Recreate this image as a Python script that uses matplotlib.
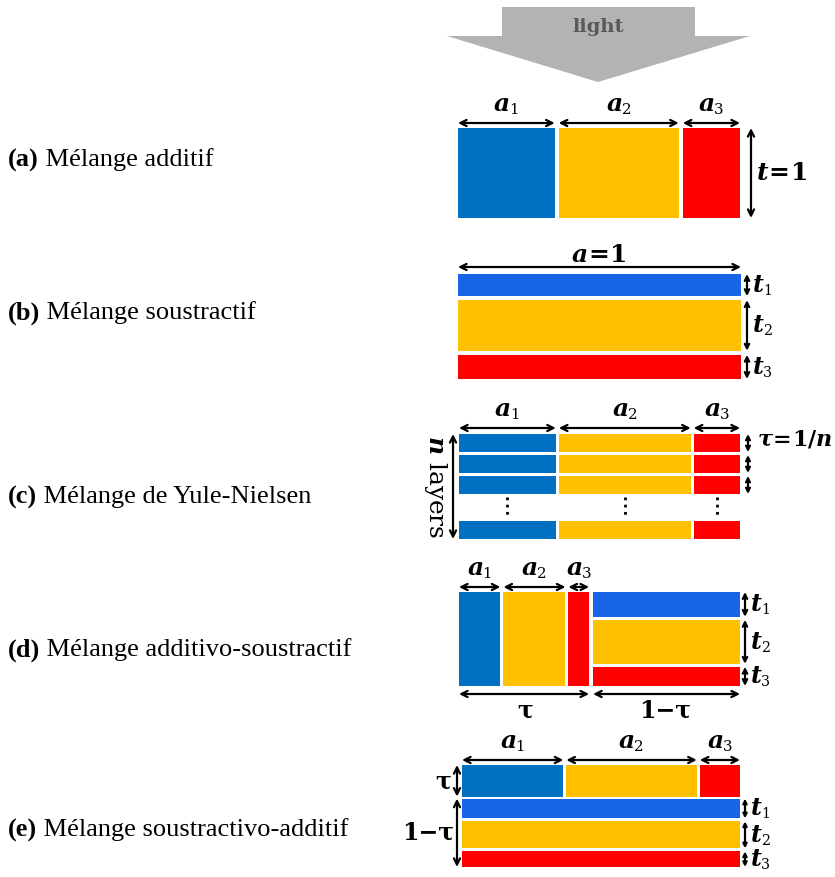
"""
Schéma des modèles de mélange (additif, soustractif, Yule-Nielsen, ...)
"""

import numpy as np
import matplotlib
matplotlib.use("Agg")
import matplotlib.pyplot as plt
from matplotlib.patches import Rectangle, Polygon

# ============================================================================
# Données : proportions
# ============================================================================
labels = ["(a)", "(b)", "(c)", "(d)", "(e)"]
names = [" Mélange additif", " Mélange soustractif", " Mélange de Yule-Nielsen",
         " Mélange additivo-soustractif", " Mélange soustractivo-additif"]

additive_a = [0.35, 0.44, 0.21]          # (a) surfaces a1, a2, a3
subtractive_t = [0.23, 0.52, 0.25]       # (b) épaisseurs t1, t2, t3
yule_a = [0.35, 0.48, 0.17]              # (c) surfaces
yule_layers_shown = 3                    # (c) couches visibles avant les points
addsub_a = [0.33, 0.50, 0.17]            # (d) surfaces (partie additive)
addsub_t = [0.28, 0.50, 0.22]            # (d) épaisseurs (partie soustractive)
addsub_tau = 0.47                        # (d) τ
subadd_a = [0.37, 0.48, 0.15]            # (e) surfaces (couche du haut)
subadd_t = [0.31, 0.44, 0.25]            # (e) épaisseurs
subadd_tau = 0.31                        # (e) τ

# couleurs
BLUE = "#0070c0"
BLUE_L = "#1766ea"
YELLOW = "#ffc000"
RED = "#ff0000"
COLS_A = [BLUE, YELLOW, RED]
COLS_T = [BLUE_L, YELLOW, RED]

plt.rcParams["mathtext.fontset"] = "custom"
plt.rcParams["mathtext.it"] = "DejaVu Serif:italic:bold"
plt.rcParams["mathtext.rm"] = "DejaVu Serif:bold"
plt.rcParams["mathtext.bf"] = "DejaVu Serif:bold"

fig = plt.figure(figsize=(8.35, 8.77), dpi=100)
ax = fig.add_axes([0, 0, 1, 1])
ax.set_xlim(0, 835)
ax.set_ylim(877, 0)
ax.axis("off")
renderer = fig.canvas.get_renderer()


def edges_of(start, end, fracs):
    f = np.asarray(fracs, dtype=float)
    return start + (end - start) * np.concatenate([[0], np.cumsum(f) / f.sum()])


def hblocks(x0, x1, y0, y1, fracs, colors, gap=4):
    """Blocs côte à côte (mélange additif)"""
    e = edges_of(x0, x1, fracs)
    segs = []
    for i, c in enumerate(colors):
        l = e[i] + (gap / 2 if i > 0 else 0)
        r = e[i + 1] - (gap / 2 if i < len(colors) - 1 else 0)
        ax.add_patch(Rectangle((l, y0), r - l, y1 - y0, color=c, lw=0))
        segs.append((l, r))
    return segs


def vblocks(x0, x1, y0, y1, fracs, colors, gap=4):
    """Couches superposées (mélange soustractif)"""
    e = edges_of(y0, y1, fracs)
    segs = []
    for i, c in enumerate(colors):
        t = e[i] + (gap / 2 if i > 0 else 0)
        b = e[i + 1] - (gap / 2 if i < len(colors) - 1 else 0)
        ax.add_patch(Rectangle((x0, t), x1 - x0, b - t, color=c, lw=0))
        segs.append((t, b))
    return segs


def darrow(x0, y0, x1, y1, ms=11):
    ax.annotate("", xy=(x1, y1), xytext=(x0, y0),
                arrowprops=dict(arrowstyle="<->", color="black", lw=1.6,
                                shrinkA=0, shrinkB=0, mutation_scale=ms))


def sym(x, y, base, sub, fs=18, ha="center"):
    """Lettre italique grasse + petit indice"""
    t1 = ax.text(x, y, base, ha="left", va="center", fontsize=fs,
                 family="DejaVu Serif", style="italic", fontweight="bold")
    w1 = t1.get_window_extent(renderer=renderer).width
    t2 = ax.text(x + w1 - 1, y + fs * 0.35, sub, ha="left", va="center",
                 fontsize=fs * 0.6, family="DejaVu Serif")
    w2 = t2.get_window_extent(renderer=renderer).width
    if ha == "center":
        shift = (w1 + w2 - 1) / 2
        t1.set_x(x - shift)
        t2.set_x(x - shift + w1 - 1)


def a_labels(segs, y_arrow, y_text):
    for i, (l, r) in enumerate(segs):
        darrow(l, y_arrow, r, y_arrow)
        sym((l + r) / 2, y_text, "a", str(i + 1), fs=18)


def t_labels(segs, x_arrow, x_text, ms=8):
    for i, (t, b) in enumerate(segs):
        darrow(x_arrow, t, x_arrow, b, ms=ms)
        sym(x_text, (t + b) / 2, "t", str(i + 1), fs=17, ha="left")


# ---------------------------------------------------------------- light
ax.add_patch(Polygon([(502, 7), (695, 7), (695, 36), (750, 36), (598, 82),
                      (447, 36), (502, 36)], closed=True, color="#b3b3b3", lw=0))
ax.text(598, 27, "light", ha="center", va="center", fontsize=14,
        fontweight="bold", color="#595959", family="DejaVu Serif")

# ---------------------------------------------------------------- (a)
segs = hblocks(458, 740, 128, 218, additive_a, COLS_A)
a_labels(segs, 123, 104)
darrow(751, 128, 751, 218)
ax.text(756, 173, r"$t\!=\!1$", ha="left", va="center", fontsize=18)

# ---------------------------------------------------------------- (b)
segs = vblocks(458, 741, 274, 379, subtractive_t, COLS_T)
darrow(458, 267, 741, 267)
ax.text(599, 255, r"$a\!=\!1$", ha="center", va="center", fontsize=18)
t_labels(segs, 747, 753)

# ---------------------------------------------------------------- (c)
row_h, pitch = 18, 21
row_tops = [434 + pitch * k for k in range(yule_layers_shown)] + [521]
for top in row_tops:
    segs = hblocks(459, 740, top, top + row_h, yule_a, COLS_A, gap=3)
a_labels(segs, 428, 409)
for (l, r) in segs:
    ax.plot([(l + r) / 2] * 2, [497, 517], color="black", lw=2,
            ls=(0, (1, 1.6)))
for top in row_tops[:yule_layers_shown]:
    darrow(748, top, 748, top + row_h, ms=7)
darrow(453, 434, 453, 539)
ax.text(436, 487, r"$n$ layers", ha="center", va="center", rotation=-90,
        fontsize=18, family="DejaVu Serif")
ax.text(757, 439, r"$\tau\!=\!1/n$", ha="left", va="center", fontsize=16)

# ---------------------------------------------------------------- (d)
xs = 459 + addsub_tau * (740 - 459)
segs = hblocks(459, xs - 2, 592, 686, addsub_a, COLS_A, gap=3)
a_labels(segs, 587, 568)
segs_t = vblocks(xs + 2, 740, 592, 686, addsub_t, COLS_T, gap=3)
t_labels(segs_t, 745, 751)
darrow(459, 694, xs - 2, 694)
darrow(xs + 2, 694, 740, 694)
ax.text((459 + xs) / 2, 710, "τ", ha="center", va="center", fontsize=17,
        fontweight="bold", family="DejaVu Serif")
ax.text((xs + 740) / 2, 710, "1−τ", ha="center", va="center", fontsize=17,
        fontweight="bold", family="DejaVu Serif")

# ---------------------------------------------------------------- (e)
y_top, y_bot = 765, 867
ys = y_top + subadd_tau * (y_bot - y_top)
segs = hblocks(462, 740, y_top, ys, subadd_a, COLS_A, gap=3)
a_labels(segs, 760, 741)
segs_t = vblocks(462, 740, ys + 2, y_bot, subadd_t, COLS_T, gap=3)
t_labels(segs_t, 745, 751, ms=6)
darrow(457, y_top, 457, ys)
darrow(457, ys + 2, 457, y_bot)
ax.text(443, (y_top + ys) / 2, "τ", ha="center", va="center", fontsize=17,
        fontweight="bold", family="DejaVu Serif")
ax.text(428, (ys + y_bot) / 2, "1−τ", ha="center", va="center", fontsize=17,
        fontweight="bold", family="DejaVu Serif")

# ---------------------------------------------------------------- textes gauche
label_y = [160, 313, 497, 650, 830]
for lab, name, y in zip(labels, names, label_y):
    t = ax.text(8, y, lab, ha="left", va="center", fontsize=19,
                fontweight="bold", family="Liberation Serif")
    bb = t.get_window_extent(renderer=renderer)
    ax.text(bb.x1, y, name, ha="left", va="center", fontsize=19,
            family="Liberation Serif")

plt.savefig("out.png", dpi=100)
